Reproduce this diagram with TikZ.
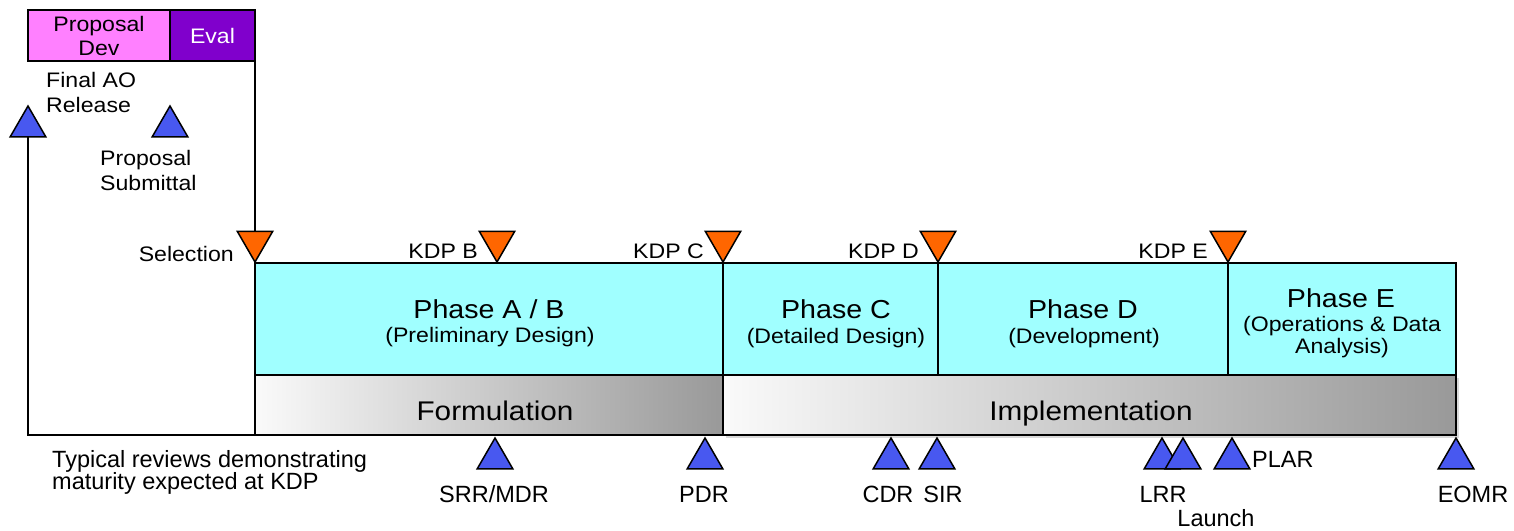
\documentclass[tikz,border=0pt]{standalone}
\usepackage{fontspec}
\setmainfont{Liberation Sans}
\newfontfamily\widesans{Liberation Sans}[FakeStretch=1.1]
\usepackage{tikz}
\usetikzlibrary{shapes.geometric,shadows,backgrounds}

\definecolor{propdev}{RGB}{255,128,255}
\definecolor{evalpurple}{RGB}{128,0,204}
\definecolor{phasecyan}{RGB}{160,255,255}
\definecolor{kdporange}{RGB}{255,102,0}
\definecolor{reviewblue}{RGB}{72,88,240}

\tikzset{
  tri/.style={regular polygon, regular polygon sides=3, minimum size=41pt,
    inner sep=0pt, outer sep=0pt, draw=black, line width=1.5pt, anchor=corner 1},
  review/.style={tri, fill=reviewblue},
  kdp/.style={tri, shape border rotate=180, fill=kdporange},
  edge/.style={line width=1.8pt},
  hdr/.style={draw, edge, minimum height=51pt, inner sep=0pt, outer sep=0pt, anchor=north west,
    align=center, font=\widesans\fontsize{21}{24}\selectfont},
  phase/.style={draw, edge, fill=phasecyan, minimum height=112pt, inner sep=0pt, outer sep=0pt,
    anchor=north west},
  bar/.style={draw, edge, left color=black!2, right color=black!40, minimum height=60pt,
    inner sep=0pt, outer sep=0pt, anchor=north west},
  title/.style={inner sep=0pt, anchor=base, font=\widesans\fontsize{26}{28}\selectfont},
  sub/.style={inner sep=0pt, anchor=base, align=center, font=\widesans\fontsize{21}{22}\selectfont},
  tag/.style={inner sep=0pt, font=\widesans\fontsize{21}{25}\selectfont},
  bartext/.style={inner sep=0pt, anchor=base, font=\widesans\fontsize{27}{29}\selectfont},
  revtext/.style={inner sep=0pt, anchor=base, font=\fontsize{23.5}{22}\selectfont}
}

\begin{document}
\begin{tikzpicture}[x=1pt,y=-1pt]
  \useasboundingbox (0,0) rectangle (1514,530);

  % proposal window
  \node[hdr, fill=propdev, minimum width=142pt] (pdev) at (28,10) {Proposal\\Dev};
  \node[hdr, fill=evalpurple, minimum width=85pt, text=white] (eval) at (170,10) {Eval};

  % phases
  \node[phase, minimum width=468pt] (pAB) at (255,263) {};
  \node[phase, minimum width=215pt] (pC) at (723,263) {};
  \node[phase, minimum width=290pt] (pD) at (938,263) {};
  \node[phase, minimum width=228pt] (pE) at (1228,263) {};

  \node[bar, minimum width=468pt] (form) at (255,375) {};
  \node[bar, minimum width=733pt, drop shadow={shadow xshift=3pt, shadow yshift=-3pt, opacity=.3}] (impl) at (723,375) {};

  \node[title] (tAB) at (489,318) {Phase A / B};
  \node[sub] (sAB) at (490,342) {(Preliminary Design)};
  \node[title] (tC) at (836,318) {Phase C};
  \node[sub] (sC) at (836,343) {(Detailed Design)};
  \node[title] (tD) at (1083,318) {Phase D};
  \node[sub] (sD) at (1084,343) {(Development)};
  \node[title] (tE) at (1341,307) {Phase E};
  \node[sub] (sE) at (1342,353) {(Operations \& Data\\Analysis)};

  \node[bartext] (formL) at (495,420) {Formulation};
  \node[bartext] (implL) at (1091,420) {Implementation};

  % milestones
  \node[review] (ao) at (28,106) {};
  \node[review] (submit) at (170,106) {};
  \node[kdp] (sel) at (255,262) {};
  \node[kdp] (kdpB) at (497,262) {};
  \node[kdp] (kdpC) at (723,262) {};
  \node[kdp] (kdpD) at (938,262) {};
  \node[kdp] (kdpE) at (1228,262) {};

  \node[review] (srr) at (495,438) {};
  \node[review] (pdr) at (705,438) {};
  \node[review] (cdr) at (891,438) {};
  \node[review] (sir) at (937,438) {};
  \node[review] (lrr) at (1162,438) {};
  \node[review] (launch) at (1183,438) {};
  \node[review] (plar) at (1232,438) {};
  \node[review] (eomr) at (1456,438) {};

  \begin{scope}[on background layer]
    \draw[edge] (eval.south east) -- (sel.corner 1);
    \draw[edge] (ao.corner 1) |- (form.south west);
  \end{scope}

  \node[tag, anchor=base west, align=left] (aoL) at (46,112) {Final AO\\Release};
  \node[tag, anchor=base west, align=left] (submitL) at (100,190) {Proposal\\Submittal};
  \node[tag, anchor=base east] (selL) at (234,261) {Selection};
  \node[tag, anchor=base east] (kdpBL) at (478,258) {KDP B};
  \node[tag, anchor=base east] (kdpCL) at (704,258) {KDP C};
  \node[tag, anchor=base east] (kdpDL) at (919,258) {KDP D};
  \node[tag, anchor=base east] (kdpEL) at (1208,258) {KDP E};

  \node[revtext, anchor=base west, align=left] (note) at (52,489) {Typical reviews demonstrating\\maturity expected at KDP};
  \node[revtext] (srrL) at (494,502) {SRR/MDR};
  \node[revtext] (pdrL) at (704,502) {PDR};
  \node[revtext] (cdrL) at (888,502) {CDR};
  \node[revtext] (sirL) at (943,502) {SIR};
  \node[revtext] (lrrL) at (1163,502) {LRR};
  \node[revtext] (launchL) at (1216,526) {Launch};
  \node[revtext, anchor=base west] (plarL) at (1252,467) {PLAR};
  \node[revtext] (eomrL) at (1473,502) {EOMR};
\end{tikzpicture}
\end{document}
